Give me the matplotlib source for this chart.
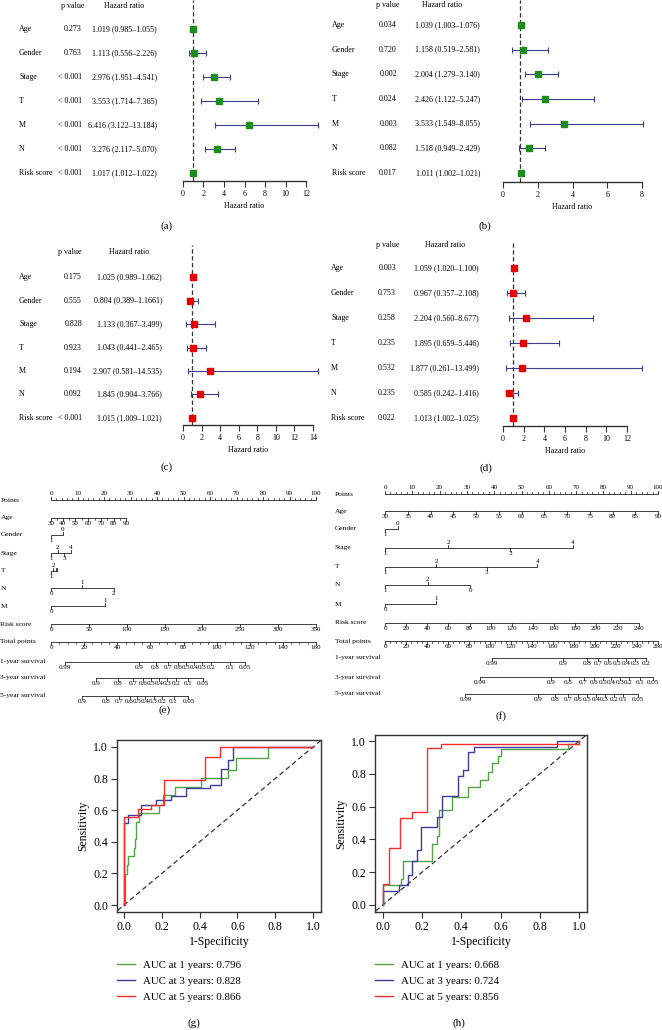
import matplotlib
matplotlib.use('Agg')
import matplotlib.pyplot as plt
from matplotlib.transforms import blended_transform_factory as blend

plt.rcParams['font.family'] = ['Liberation Serif', 'DejaVu Serif']

W, H = 662, 1030
fig = plt.figure(figsize=(W / 100, H / 100), dpi=100)


def px_axes(l, t, r, b):
    return fig.add_axes([l / W, 1 - b / H, (r - l) / W, (b - t) / H])


# ---------------- forest plot data ----------------
variables = ['Age', 'Gender', 'Stage', 'T', 'M', 'N', 'Risk score']

a_p = ['0.273', '0.763', '< 0.001', '< 0.001', '< 0.001', '< 0.001', '< 0.001']
a_hr = [1.019, 1.113, 2.976, 3.553, 6.416, 3.276, 1.017]
a_lo = [0.985, 0.556, 1.951, 1.714, 3.122, 2.117, 1.012]
a_hi = [1.055, 2.226, 4.541, 7.365, 13.184, 5.070, 1.022]

b_p = ['0.034', '0.720', '0.002', '0.024', '0.003', '0.082', '0.017']
b_hr = [1.039, 1.158, 2.004, 2.426, 3.533, 1.518, 1.011]
b_lo = [1.003, 0.519, 1.279, 1.122, 1.549, 0.949, 1.002]
b_hi = [1.076, 2.581, 3.140, 5.247, 8.055, 2.429, 1.021]

c_p = ['0.175', '0.555', '0.828', '0.923', '0.194', '0.092', '< 0.001']
c_hr = [1.025, 0.804, 1.133, 1.043, 2.907, 1.845, 1.015]
c_lo = [0.989, 0.389, 0.367, 0.441, 0.581, 0.904, 1.009]
c_hi = [1.062, 1.661, 3.499, 2.465, 14.535, 3.766, 1.021]

d_p = ['0.003', '0.753', '0.258', '0.235', '0.532', '0.235', '0.022']
d_hr = [1.059, 0.967, 2.204, 1.895, 1.877, 0.585, 1.013]
d_lo = [1.020, 0.357, 0.560, 0.659, 0.261, 0.242, 1.002]
d_hi = [1.100, 2.108, 8.677, 5.446, 13.499, 1.416, 1.025]


def hr_labels(hr, lo, hi):
    return [f'{h:.3f} ({l:.3f}\u2013{u:.3f})' for h, l, u in zip(hr, lo, hi)]


c_text = hr_labels(c_hr, c_lo, c_hi)
c_text[1] = '0.804 (0.389\u20131.1661)'   # as printed in the source figure

GREEN_SQ = '#1e8c1e'
RED_SQ = '#e60000'
NAVY = '#3a3f8f'
FS = 5.8


def forest(rect, xmax, ylim, hr, lo, hi, pvals, texts, color, cols, header_row, tag, tag_y):
    ax = px_axes(*rect)
    idx = list(range(len(hr)))
    xerr = [[h - l for h, l in zip(hr, lo)], [u - h for h, u in zip(hr, hi)]]
    ax.axvline(1, color='#333333', ls=(0, (3.5, 2)), lw=0.9, zorder=1)
    ax.errorbar(hr, idx, xerr=xerr, fmt='none', ecolor=NAVY, elinewidth=0.8,
                capsize=2.2, capthick=0.8, clip_on=False, zorder=2)
    ax.plot(hr, idx, 's', color=color, ms=4.6, zorder=3, clip_on=False)
    ax.set_xlim(0, xmax)
    ax.set_ylim(*ylim)
    for s in ['top', 'right', 'left']:
        ax.spines[s].set_visible(False)
    ax.spines['bottom'].set_bounds(0, xmax)
    ax.spines['bottom'].set_color('#333333')
    ax.spines['bottom'].set_linewidth(1.0)
    ax.set_yticks([])
    ax.set_xticks(range(0, xmax + 1, 2))
    ax.tick_params(axis='x', length=4, width=0.8, color='#333333', labelsize=FS, pad=2.5)
    ax.set_xlabel('Hazard ratio', fontsize=FS, labelpad=3)
    tr = blend(fig.transFigure, ax.transData)
    lab_x, p_x, p_ha, p_head, hr_x, hr_head = cols
    for i in idx:
        ax.text(lab_x / W, i, variables[i], transform=tr, fontsize=FS, ha='left', va='center')
        ax.text(p_x / W, i, pvals[i], transform=tr, fontsize=FS, ha=p_ha, va='center')
        ax.text(hr_x / W, i, texts[i], transform=tr, fontsize=FS, ha='right', va='center')
    ax.text(p_head / W, header_row, 'p value', transform=tr, fontsize=FS, ha='center', va='center')
    ax.text(hr_head / W, header_row, 'Hazard ratio', transform=tr, fontsize=FS, ha='center', va='center')
    fig.text(tag[0] / W, 1 - tag_y / H, tag[1], fontsize=8, ha='center', va='center')


forest((183, 0, 306, 181), 12, (6.333, -1.208), a_hr, a_lo, a_hi, a_p,
       hr_labels(a_hr, a_lo, a_hi), GREEN_SQ, (19, 82, 'right', 73, 157, 124), -0.96, (167, '(a)'), 226)
forest((503, 0, 642, 182), 8, (6.365, -1.013), b_hr, b_lo, b_hi, b_p,
       hr_labels(b_hr, b_lo, b_hi), GREEN_SQ, (332, 397, 'right', 388, 480, 442), -0.83, (485, '(b)'), 226)
forest((183, 245, 313, 425), 14, (6.298, -1.362), c_hr, c_lo, c_hi, c_p,
       c_text, RED_SQ, (19, 82, 'right', 70, 162, 129), -1.06, (167, '(c)'), 467)
forest((503, 243, 627, 426), 12, (6.32, -1.0), d_hr, d_lo, d_hi, d_p,
       hr_labels(d_hr, d_lo, d_hi), RED_SQ, (331, 396, 'right', 388, 479, 445), -0.92, (486, '(d)'), 468)

# ---------------- nomogram data ----------------
row_names = ['Points', 'Age', 'Gender', 'Stage', 'T', 'N', 'M', 'Risk score',
             'Total points', '1-year survival', '3-year survival', '5-year survival']

# (e) positions are in "Points" units (0-100)
e_age = [30, 40, 50, 60, 70, 80, 90]
e_age_pts = [0, 4.4, 9.2, 14.1, 18.8, 23.6, 28.3]
e_gender = (['1', '0'], [0, 4.4], ['below', 'above'])
e_stage = (['1', '2', '3', '4'], [0, 2.6, 4.9, 7.4], ['below', 'above', 'below', 'above'])
e_t = (['1', '2', '', ''], [0, 0.9, 1.7, 2.4], ['below', 'above', 'above', 'above'])
e_n = (['0', '1', '2'], [0, 11.7, 23.7], ['below', 'above', 'below'])
e_m = (['0', '1'], [0, 20.5], ['below', 'above'])
e_risk = [0, 50, 100, 150, 200, 250, 300, 350]
e_total_max = 160
surv_levels = ['0.99', '0.9', '0.8', '0.7', '0.6', '0.5', '0.4', '0.3', '0.2', '0.1', '0.05']
e_1y = (surv_levels, [8.5, 53.2, 63.1, 70.9, 76.6, 81.4, 86.4, 91.3, 96.5, 108.2, 116.9])
e_3y = (surv_levels[1:], [27.2, 40.7, 49.8, 55.4, 60.3, 65.3, 69.9, 75.4, 83.0, 91.7])
e_5y = (surv_levels[1:], [18.9, 33.2, 41.3, 47.4, 51.8, 56.8, 61.9, 66.9, 74.0, 83.0])

# (f)
f_age = [30, 35, 40, 45, 50, 55, 60, 65, 70, 75, 80, 85, 90]
f_gender = (['1', '0'], [0, 4.6], ['below', 'above'])
f_stage = (['1', '2', '3', '4'], [0, 23.1, 45.9, 68.8], ['below', 'above', 'below', 'above'])
f_t = (['1', '2', '3', '4'], [0, 18.8, 37.2, 55.8], ['below', 'above', 'below', 'above'])
f_n = (['1', '2', '0'], [0, 15.6, 31.3], ['below', 'above', 'below'])
f_m = (['0', '1'], [0, 18.7], ['below', 'above'])
f_risk = list(range(0, 241, 20))
f_risk_max_pts = 92.9
f_total_max = 260
f_1y = (surv_levels[:-2], [102.0, 169.4, 192.6, 202.8, 212.3, 221.2, 229.8, 238.4, 248.8])
f_3y = (surv_levels, [90.6, 158.3, 174.8, 189.1, 198.9, 207.5, 215.5, 223.7, 232.0, 242.5, 255.2])
f_5y = (surv_levels, [76.6, 145.6, 162.1, 174.2, 183.7, 192.6, 201.2, 209.1, 218.0, 226.6, 240.9])

NFS = 5.0


def scale(ax, y, pts, labels, sides=None, minor=(), tick=2.6, off=5.6):
    if sides is None:
        sides = ['below'] * len(pts)
    ax.plot([min(pts), max(pts)], [y, y], color='#222222', lw=0.6, clip_on=False,
            solid_capstyle='butt')
    d0 = -1 if sides[0] == 'above' else 1
    for p in minor:
        ax.plot([p, p], [y, y + d0 * tick * 0.6], color='#222222', lw=0.5, clip_on=False)
    for p, lab, s in zip(pts, labels, sides):
        d = -1 if s == 'above' else 1
        ax.plot([p, p], [y, y + d * tick], color='#222222', lw=0.6, clip_on=False)
        if lab:
            ax.text(p, y + d * off, lab, ha='center', va='center', fontsize=NFS, clip_on=False)


def nomogram(rect, rows_y, name_x, age, age_pts, gender, stage, t, n, m,
             risk, risk_pts_max, total_max, total_minor, s1, s3, s5, tag, tag_xy):
    ax = px_axes(*rect)
    ax.set_xlim(0, 100)
    ax.set_ylim(rect[3], rect[1])
    ax.axis('off')
    tr = blend(fig.transFigure, ax.transData)
    for name, y in zip(row_names, rows_y):
        ax.text(name_x / W, y, name, transform=tr, fontsize=5.4, ha='left', va='center')
    # Points
    pts_major = list(range(0, 101, 10))
    scale(ax, rows_y[0], pts_major, [str(v) for v in pts_major], ['above'] * 11,
          minor=[v for v in range(0, 101, 2) if v % 10], off=6.2)
    # Age
    age_minor = [(a + b) / 2 for a, b in zip(age_pts[:-1], age_pts[1:])] if len(age) < 10 else ()
    scale(ax, rows_y[1], age_pts, [str(v) for v in age], minor=age_minor)
    for (labs, pts, sides), y in zip([gender, stage, t, n, m], rows_y[2:7]):
        scale(ax, y, pts, labs, sides)
    rp = [v / risk[-1] * risk_pts_max for v in risk]
    scale(ax, rows_y[7], rp, [str(v) for v in risk])
    tot = list(range(0, total_max + 1, 20))
    scale(ax, rows_y[8], [v / total_max * 100 for v in tot], [str(v) for v in tot],
          minor=[v / total_max * 100 for v in range(0, total_max + 1, total_minor) if v % 20])
    for (labs, tp), y in zip([s1, s3, s5], rows_y[9:]):
        scale(ax, y, [v / total_max * 100 for v in tp], labs)
    fig.text(tag_xy[0] / W, 1 - tag_xy[1] / H, tag, fontsize=8, ha='center', va='center')


e_rows = [500, 518, 535, 553, 571, 588, 606, 624, 642, 662, 678, 696]
f_rows = [494, 511, 529, 548, 567, 585, 604, 623, 641, 658, 677, 694]

f_age_pts = [(a - 30) / 60 * 100 for a in f_age]

nomogram((51, 480, 316, 715), e_rows, 0.5, e_age, e_age_pts, e_gender, e_stage, e_t, e_n, e_m,
         e_risk, 100, e_total_max, 5, e_1y, e_3y, e_5y, '(e)', (165, 710))
nomogram((385, 480, 658, 715), f_rows, 335, f_age, f_age_pts, f_gender, f_stage, f_t, f_n, f_m,
         f_risk, f_risk_max_pts, f_total_max, 5, f_1y, f_3y, f_5y, '(f)', (501, 716))

# ---------------- ROC data ----------------
g_fpr1 = [0, 0.004, 0.014, 0.021, 0.053, 0.06, 0.065, 0.079, 0.185, 0.206, 0.268, 0.409, 0.55, 0.594, 0.762, 1.0]
g_tpr1 = [0, 0.198, 0.255, 0.31, 0.364, 0.417, 0.528, 0.58, 0.634, 0.695, 0.745, 0.806, 0.855, 0.93, 1.0, 1.0]
g_fpr3 = [0, 0, 0.02, 0.092, 0.171, 0.25, 0.33, 0.453, 0.515, 0.55, 0.577, 1.0]
g_tpr3 = [0, 0.52, 0.57, 0.634, 0.665, 0.69, 0.74, 0.76, 0.86, 0.92, 1.0, 1.0]
g_fpr5 = [0, 0, 0.074, 0.145, 0.21, 0.43, 0.506, 1.0]
g_tpr5 = [0, 0.56, 0.61, 0.634, 0.79, 0.939, 1.0, 1.0]
g_auc = [0.796, 0.828, 0.866]

h_fpr1 = [0, 0, 0.09, 0.104, 0.248, 0.274, 0.286, 0.354, 0.434, 0.493, 0.537, 0.558, 0.587, 0.604, 0.944, 1.0]
h_tpr1 = [0, 0.12, 0.16, 0.27, 0.37, 0.42, 0.577, 0.66, 0.72, 0.76, 0.81, 0.865, 0.906, 0.95, 0.98, 1.0]
h_fpr3 = [0, 0, 0.082, 0.128, 0.15, 0.175, 0.196, 0.274, 0.30, 0.383, 0.41, 0.434, 0.463, 0.888, 1.0]
h_tpr3 = [0, 0.083, 0.124, 0.18, 0.266, 0.333, 0.473, 0.534, 0.666, 0.784, 0.824, 0.936, 0.966, 1.0, 1.0]
h_fpr5 = [0, 0, 0.031, 0.087, 0.15, 0.226, 0.298, 0.998]
h_tpr5 = [0, 0.13, 0.345, 0.53, 0.57, 0.956, 0.98, 1.0]
h_auc = [0.668, 0.724, 0.856]

years = [1, 3, 5]
roc_colors = ['#52a546', '#3d3d9a', '#ff2a2a']


def roc(rect, xlim, ylim, curves, aucs, tag, tag_x, leg_x):
    ax = px_axes(*rect)
    ax.plot([-0.1, 1.1], [-0.1, 1.1], color='#333333', ls=(0, (4, 2.5)), lw=0.9)
    handles = []
    for (fpr, tpr), col, yr, auc in zip(curves, roc_colors, years, aucs):
        ln, = ax.plot(fpr, tpr, drawstyle='steps-post', color=col, lw=1.0,
                      label=f'AUC at {yr} years: {auc:.3f}')
        handles.append(ln)
    ax.set_xlim(*xlim)
    ax.set_ylim(*ylim)
    ticks = [0, 0.2, 0.4, 0.6, 0.8, 1.0]
    ax.set_xticks(ticks)
    ax.set_yticks(ticks)
    ax.set_xticklabels([f'{v:.1f}' for v in ticks])
    ax.set_yticklabels([f'{v:.1f}' for v in ticks])
    ax.tick_params(length=4, width=0.8, labelsize=8.5, pad=2.5, color='#333333')
    for s in ax.spines.values():
        s.set_linewidth(1.0)
        s.set_color('#333333')
    ax.set_xlabel('1-Specificity', fontsize=8.5, labelpad=2)
    ax.set_ylabel('Sensitivity', fontsize=8.5, labelpad=3)
    ax.legend(handles=handles, loc='upper left', bbox_to_anchor=(leg_x / W, 1 - 960 / H),
              bbox_transform=fig.transFigure, frameon=False, fontsize=7.8,
              handlelength=1.7, handletextpad=0.7, labelspacing=0.6, borderpad=0, borderaxespad=0)
    fig.text(tag_x / W, 1 - 1023 / H, tag, fontsize=8, ha='center', va='center')


roc((117, 740, 321, 912), (-0.037, 1.042), (-0.044, 1.044),
    [(g_fpr1, g_tpr1), (g_fpr3, g_tpr3), (g_fpr5, g_tpr5)], g_auc, '(g)', 194, 117)
roc((375, 735, 587, 912), (-0.04, 1.04), (-0.043, 1.037),
    [(h_fpr1, h_tpr1), (h_fpr3, h_tpr3), (h_fpr5, h_tpr5)], h_auc, '(h)', 459, 375)

fig.savefig('out.png', dpi=100)
